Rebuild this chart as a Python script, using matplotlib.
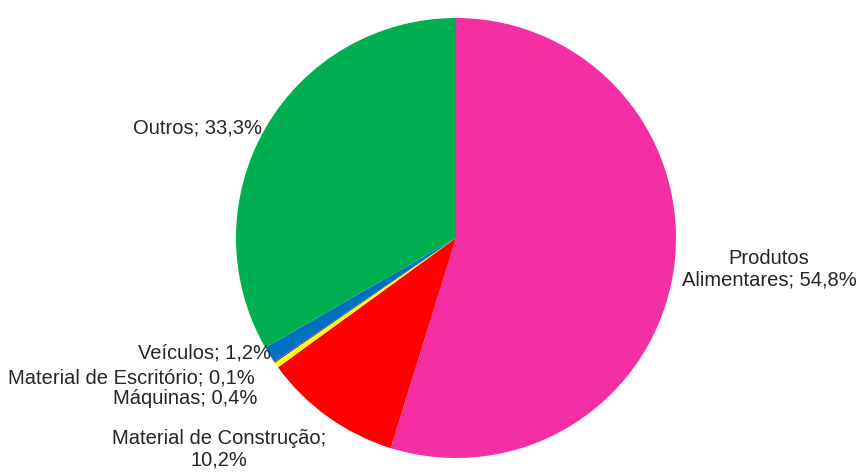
import matplotlib
matplotlib.use("Agg")
import matplotlib.pyplot as plt

names = ["Produtos Alimentares", "Material de Construção", "Máquinas", "Material de Escritório", "Veículos", "Outros"]
values = [54.8, 10.2, 0.4, 0.1, 1.2, 33.3]
labels = ["Produtos\nAlimentares; 54,8%", "Material de Construção;\n10,2%", "Máquinas; 0,4%",
          "Material de Escritório; 0,1%", "Veículos; 1,2%", "Outros; 33,3%"]
colors = ["#F42FA3", "#FF0000", "#FFFF00", "#7030A0", "#0070C0", "#00B050"]

W, H = 859, 473
fig = plt.figure(figsize=(W / 100, H / 100), dpi=100)
ax = fig.add_axes([0, 0, 1, 1])

cx, cy, R = 456, H - 238, 220
ax.pie(values, colors=colors, startangle=90, counterclock=False,
       center=(cx, cy), radius=R, frame=True)
ax.set_xlim(0, W)
ax.set_ylim(0, H)
ax.set_aspect("equal")
ax.axis("off")

# label positions in pixel coords (x, y from top), alignment
pos = [(769, 269, "center"), (219, 449, "center"), (257, 399, "right"),
       (255, 378, "right"), (271, 353, "right"), (262, 128, "right")]
for lab, (x, y, ha) in zip(labels, pos):
    ax.text(x, H - y, lab, ha=ha, va="center", fontsize=14.5, color="#262626",
            family="Liberation Sans", linespacing=1.2, multialignment="center")

fig.savefig("out.png", dpi=100)
